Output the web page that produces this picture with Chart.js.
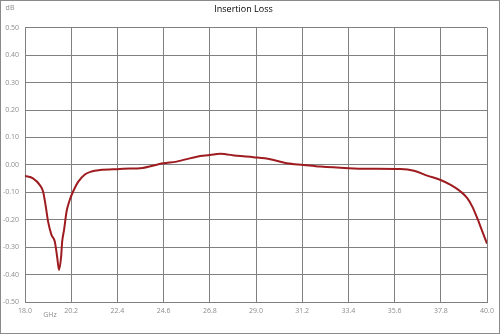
<!DOCTYPE html>
<html>
<head>
<meta charset="utf-8">
<script src="https://cdn.jsdelivr.net/npm/chart.js@4"></script>
<style>
    html, body { margin: 0; padding: 0; background: #fff; }
    #wrap { width: 500px; height: 334px; position: relative; }
</style>
</head>
<body>
<div id="wrap"><canvas id="loss-chart"></canvas></div>
<script>
const chartTitle = 'Insertion Loss';
const xUnit = 'GHz';
const yUnit = 'dB';

const xTicks = [18.0, 20.2, 22.4, 24.6, 26.8, 29.0, 31.2, 33.4, 35.6, 37.8, 40.0];

const freq = [18.0, 18.38, 18.70, 18.86, 18.99, 19.10, 19.26, 19.42, 19.53, 19.62, 19.72, 19.77,
    19.86, 19.98, 20.13, 20.29, 20.53, 20.85, 21.17, 21.56, 22.52, 23.0, 23.48, 24.59,
    25.22, 26.18, 26.81, 27.29, 28.09, 28.88, 29.68, 30.47, 31.27, 32.06, 33.41, 34.29, 35.88,
    36.52, 37.15, 37.79, 38.27, 38.74, 39.06, 39.30, 39.54, 39.78, 40.0];
const loss = [-0.040, -0.049, -0.073, -0.097, -0.152, -0.207, -0.255, -0.280, -0.335, -0.383, -0.335, -0.280,
    -0.237, -0.170, -0.128, -0.097, -0.062, -0.035, -0.024, -0.019, -0.015, -0.013, -0.012, 0.006,
    0.012, 0.030, 0.036, 0.041, 0.033, 0.028, 0.021, 0.006, 0.000, -0.006, -0.012, -0.014, -0.015,
    -0.021, -0.039, -0.055, -0.073, -0.097, -0.121, -0.152, -0.195, -0.243, -0.287];

const gridColor = '#808080';
const labelColor = '#8c8c8c';
const labelFont = { family: 'Open Sans', size: 7 };

// frame round the picture + the small unit labels
const extrasPlugin = {
    id: 'extras',
    afterDraw(chart) {
        const ctx = chart.ctx;
        ctx.save();
        ctx.strokeStyle = '#8a8a8a';
        ctx.lineWidth = 1;
        ctx.strokeRect(0.5, 0.5, chart.width - 1, chart.height - 1);

        ctx.fillStyle = labelColor;
        ctx.font = '7px "Open Sans"';
        ctx.textAlign = 'center';
        ctx.textBaseline = 'middle';
        ctx.fillText(yUnit, 10, 8);
        ctx.fillText(xUnit, 50, 315);
        ctx.restore();
    }
};

document.addEventListener('DOMContentLoaded', () => {
    const ctx = document.getElementById('loss-chart');
    new Chart(ctx, {
        type: 'line',
        data: {
            labels: freq,
            datasets: [{
                label: chartTitle,
                data: freq.map((f, i) => ({ x: f, y: loss[i] })),
                borderColor: '#9e1b20',
                borderWidth: 2,
                pointRadius: 0,
                fill: false,
                cubicInterpolationMode: 'monotone'
            }]
        },
        options: {
            responsive: true,
            maintainAspectRatio: false,
            animation: false,
            layout: { padding: { top: 0, right: 13, bottom: 0, left: 0 } },
            plugins: {
                legend: { display: false },
                tooltip: { enabled: false },
                title: {
                    display: true,
                    text: chartTitle,
                    color: '#000',
                    font: { family: 'Open Sans', size: 9, weight: 'normal' },
                    padding: { top: 4, bottom: 13 }
                }
            },
            scales: {
                x: {
                    type: 'linear',
                    min: 18,
                    max: 40,
                    afterBuildTicks: scale => { scale.ticks = xTicks.map(v => ({ value: v })); },
                    afterFit: scale => { scale.height = 32; },
                    ticks: {
                        color: labelColor,
                        font: labelFont,
                        padding: 5,
                        maxRotation: 0,
                        autoSkip: false,
                        callback: v => v.toFixed(1)
                    },
                    grid: { color: gridColor, lineWidth: 1, drawTicks: false },
                    border: { color: gridColor }
                },
                y: {
                    min: -0.5,
                    max: 0.5,
                    afterFit: scale => { scale.width = 25; },
                    ticks: {
                        stepSize: 0.1,
                        color: labelColor,
                        font: labelFont,
                        padding: 6,
                        callback: v => v.toFixed(2)
                    },
                    grid: { color: gridColor, lineWidth: 1, drawTicks: false },
                    border: { color: gridColor }
                }
            }
        },
        plugins: [extrasPlugin]
    });
});
</script>
</body>
</html>
